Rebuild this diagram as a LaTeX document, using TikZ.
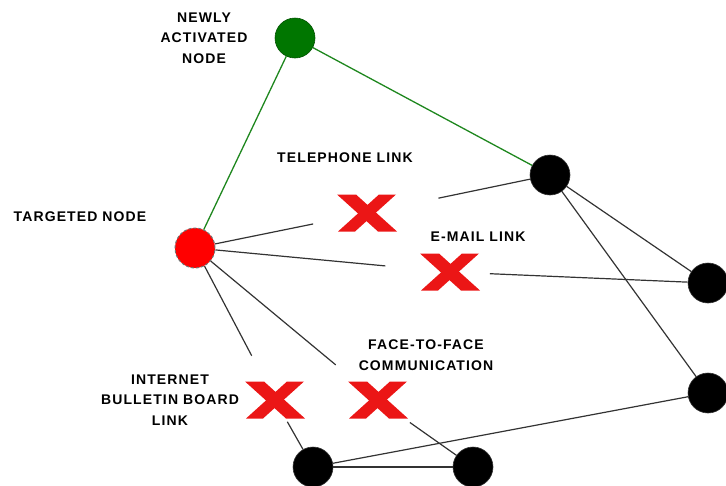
\documentclass[tikz,border=0pt]{standalone}
\usepackage{fontspec}
\newfontfamily\lblfont{Liberation Sans}[LetterSpace=8]
\usepackage {tikz}
\usetikzlibrary {positioning}
\definecolor{nodegreen}{RGB}{0,118,0}
\definecolor{linkgreen}{RGB}{30,135,30}
\definecolor{xred}{RGB}{235,22,22}

\begin{document}
\begin{tikzpicture}[on grid ,
semithick ,
agent/.style ={ circle ,fill=black ,draw=black!80 ,inner sep=0pt ,minimum size =40pt},
active/.style ={ agent ,fill=nodegreen ,draw=nodegreen!70!black},
target/.style ={ agent ,fill=red ,draw=black!55 ,densely dashed ,line width=1pt},
tie/.style ={ draw=black!80 ,line width=1.2pt},
greentie/.style ={ draw=linkgreen ,line width=1.3pt},
cut/.style ={ rectangle ,inner sep=0pt ,minimum width=62pt ,minimum height=40pt ,
  path picture={
    \fill[xred ,shift={(path picture bounding box.center)}] (-30pt,18.5pt) -- (-11pt,18.5pt) -- (30pt,-18.5pt) -- (11pt,-18.5pt) -- cycle;
    \fill[xred ,shift={(path picture bounding box.center)}] (12pt,18.5pt) -- (29pt,18.5pt) -- (-12pt,-18.5pt) -- (-29pt,-18.5pt) -- cycle;
  }},
lbl/.style ={ font=\lblfont\bfseries\fontsize{14pt}{20.5pt}\selectfont ,align=center ,inner sep=0pt}]
\path[use as bounding box] (0,0) rectangle (726pt,-485pt);
\node[target] (R) at (195pt,-248pt) {};
\node[active] (G) [above right =210pt and 100pt of R] {};
\node[agent] (A) [above right =73pt and 355pt of R] {};
\node[agent] (B) [below right =35pt and 513pt of R] {};
\node[agent] (C) [below =110pt of B] {};
\node[agent] (D) [below right =219pt and 118pt of R] {};
\node[agent] (E) [right =160pt of D] {};
\node[cut] (X1) [above right =35pt and 172pt of R] {};
\node[cut] (X2) [below right =24pt and 255pt of R] {};
\node[cut] (X3) [below right =152pt and 80pt of R] {};
\node[cut] (X4) [right =103pt of X3] {};
% labels
\node[lbl] (Lg) [left =91pt of G] {NEWLY\\ACTIVATED\\NODE};
\node[lbl] (Lt) [above left =55pt and 22pt of X1] {TELEPHONE LINK};
\node[lbl] (Lr) [above left =31pt and 115pt of R] {TARGETED NODE};
\node[lbl] (Le) [above right =35pt and 28pt of X2] {E-MAIL LINK};
\node[lbl] (Lf) [above right =45pt and 48pt of X4] {FACE-TO-FACE\\COMMUNICATION};
\node[lbl] (Li) [left =105pt of X3] {INTERNET\\BULLETIN BOARD\\LINK};
% links
\draw[greentie] (G) -- (R);
\draw[greentie] (G) -- (A);
\draw[tie ,shorten >=55pt] (R) -- (X1.center);
\draw[tie ,shorten <=73pt] (X1.center) -- (A);
\draw[tie ,shorten >=65pt] (R) -- (X2.center);
\draw[tie ,shorten <=40pt] (X2.center) -- (B);
\draw[tie ,shorten >=50pt] (R) -- (X3.center);
\draw[tie ,shorten <=25pt] (X3.center) -- (D);
\draw[tie ,shorten >=55pt] (R) -- (X4.center);
\draw[tie ,shorten <=39pt] (X4.center) -- (E);
\draw[tie] (A) -- (B);
\draw[tie] (A) -- (C);
\draw[tie] (D) -- (C);
\draw[tie] (D) -- (E);
\end{tikzpicture}
\end{document}
